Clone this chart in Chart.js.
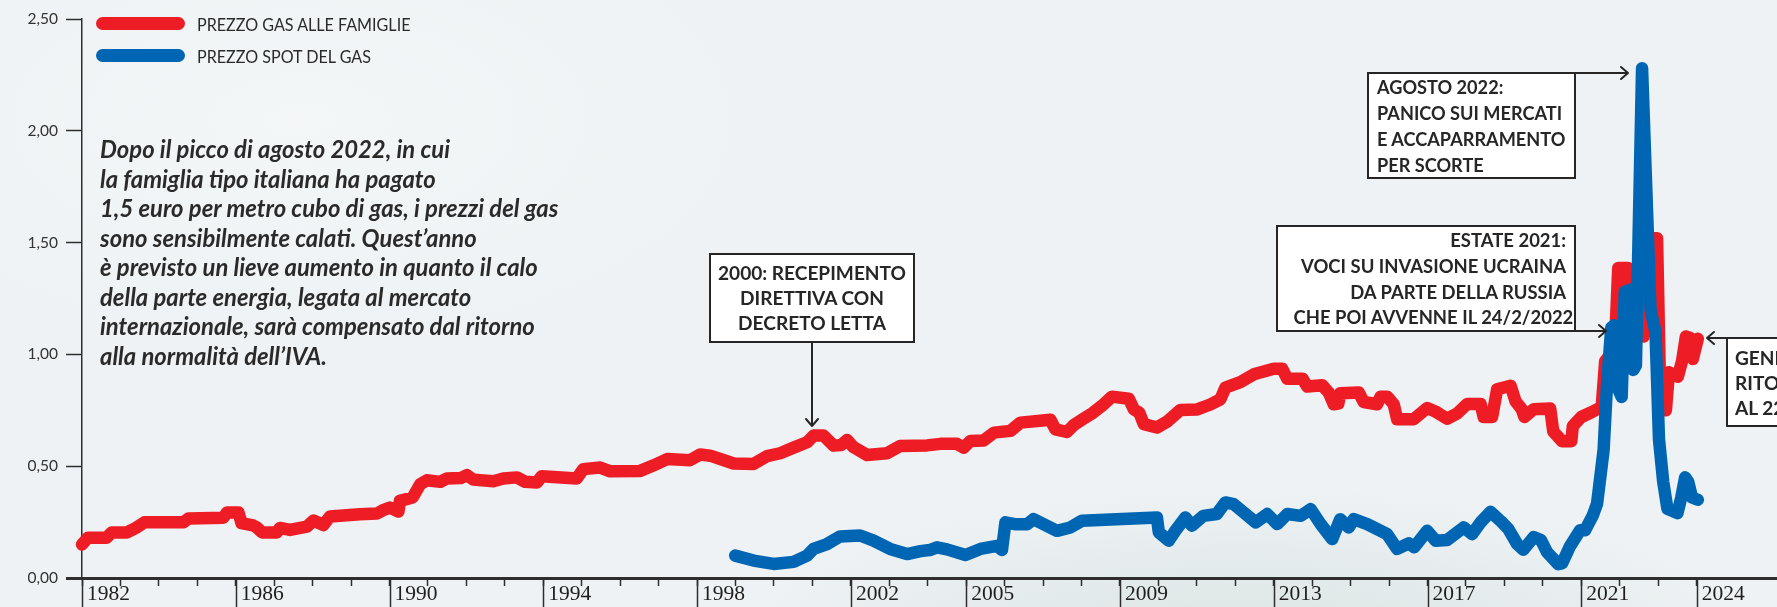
<!DOCTYPE html>
<html><head><meta charset="utf-8">
<script src="https://cdn.jsdelivr.net/npm/chart.js@4.4.1/dist/chart.umd.min.js"></script>
<style>
html,body{margin:0;padding:0;width:1777px;height:607px;overflow:hidden;background:#eff2f4;}
#wrap{position:relative;width:1777px;height:607px;overflow:hidden;
 background: radial-gradient(ellipse 700px 220px at 1250px 650px, rgba(205,218,216,0.6), rgba(239,242,244,0) 75%), radial-gradient(ellipse 600px 300px at 300px 120px, rgba(246,248,249,0.7), rgba(239,242,244,0) 80%), #eef2f4;}
canvas{position:absolute;left:0;top:0;}
.lbar{position:absolute;height:13px;border-radius:7px;}
.ltxt{position:absolute;font-family:Lato;font-size:18px;color:#2a2a2a;white-space:nowrap;line-height:20px;transform-origin:0 50%;}
#para{position:absolute;left:100px;top:134px;font-family:Lato;font-style:italic;font-weight:700;color:#2a2a2a;line-height:29.5px;white-space:nowrap;}
.box{position:absolute;background:#fff;border:2px solid #262626;box-sizing:border-box;font-family:Lato;font-weight:700;font-size:19.5px;color:#262626;white-space:nowrap;}
.box .in{display:block;}
svg{position:absolute;left:0;top:0;}
</style></head>
<body>
<div id="wrap">
<canvas id="c" width="1777" height="607"></canvas>
<svg width="1777" height="607">
 <g stroke="#262626" stroke-width="2" fill="none" stroke-linecap="round" stroke-linejoin="round">
  <path d="M812 343 V426 M806 419 L812 426 L818 419"/>
  <path d="M1575 73 H1628 M1621 67 L1628 73 L1621 79"/>
  <path d="M1575 331 H1606 M1599 325 L1606 331 L1599 337"/>
  <path d="M1726 338 H1707 M1714 332 L1707 338 L1714 344"/>
 </g>
</svg>
<div id="legend"></div>
<div id="para">Dopo il picco di agosto 2022, in cui<br>la famiglia tipo italiana ha pagato<br>1,5 euro per metro cubo di gas, i prezzi del gas<br>sono sensibilmente calati. Quest’anno<br>è previsto un lieve aumento in quanto il calo<br>della parte energia, legata al mercato<br>internazionale, sarà compensato dal ritorno<br>alla normalità dell’IVA.</div>
<div class="box" style="left:709px;top:253px;width:206px;height:90px;text-align:center;line-height:25px;padding-top:5px;"><div class="in" id="b1" style="transform-origin:50% 0;">2000: RECEPIMENTO<br>DIRETTIVA CON<br>DECRETO LETTA</div></div>
<div class="box" style="left:1367px;top:72px;width:209px;height:107px;line-height:26px;padding-left:8px;padding-top:0px;"><div class="in" id="b2" style="transform-origin:0 0;">AGOSTO 2022:<br>PANICO SUI MERCATI<br>E ACCAPARRAMENTO<br>PER SCORTE</div></div>
<div class="box" style="left:1276px;top:225px;width:300px;height:107px;text-align:right;line-height:25.8px;padding-right:8px;padding-top:0px;"><div class="in" id="b3" style="transform-origin:100% 0;">ESTATE 2021:<br>VOCI SU INVASIONE UCRAINA<br>DA PARTE DELLA RUSSIA<br>CHE POI AVVENNE IL 24/2/2022</div></div>
<div class="box" style="left:1726px;top:337px;width:200px;height:90px;line-height:25px;padding-left:7px;padding-top:6px;"><div class="in" id="b4" style="transform-origin:0 0;">GENNAIO 2024:<br>RITORNO IVA<br>AL 22%</div></div>
</div>
<script>
// ---- DATA ----
const xTickYears = [];
for (let y = 1982; y <= 2024; y++) xTickYears.push(y);
const xLabelYears = [1982, 1986, 1990, 1994, 1998, 2002, 2005, 2009, 2013, 2017, 2021, 2024];
const yTickValues = [0, 0.5, 1, 1.5, 2, 2.5];

const seriesNames = ['PREZZO GAS ALLE FAMIGLIE', 'PREZZO SPOT DEL GAS'];

const redYears = [1982.00,1982.15,1982.64,1982.77,1983.17,1983.30,1983.42,1983.62,1984.64,1984.77,1985.68,1985.77,1986.07,1986.15,1986.45,1986.55,1986.68,1987.07,1987.15,1987.41,1987.85,1988.02,1988.28,1988.45,1989.23,1989.67,1989.85,1990.01,1990.23,1990.27,1990.60,1990.80,1990.97,1991.32,1991.49,1991.85,1992.01,1992.18,1992.70,1992.96,1993.31,1993.53,1993.83,1993.96,1994.87,1995.04,1995.48,1995.74,1996.52,1996.87,1997.22,1997.82,1998.08,1998.34,1998.95,1999.47,1999.82,2000.16,2000.51,2000.86,2001.03,2001.29,2001.55,2001.75,2001.90,2002.07,2002.42,2002.94,2003.28,2003.98,2004.33,2004.76,2004.93,2005.11,2005.45,2005.72,2006.15,2006.41,2007.19,2007.32,2007.62,2007.79,2008.06,2008.27,2008.53,2008.79,2009.23,2009.36,2009.50,2009.62,2009.96,2010.23,2010.57,2011.01,2011.35,2011.61,2011.74,2012.13,2012.48,2013.00,2013.22,2013.35,2013.75,2013.87,2014.26,2014.43,2014.56,2014.68,2014.73,2015.21,2015.34,2015.69,2015.78,2015.95,2016.12,2016.21,2016.64,2016.99,2017.20,2017.51,2017.77,2018.03,2018.38,2018.46,2018.68,2018.81,2019.16,2019.29,2019.45,2019.52,2019.76,2020.19,2020.27,2020.50,2020.74,2020.78,2021.00,2021.25,2021.53,2021.62,2021.87,2021.96,2022.22,2022.40,2022.62,2022.85,2022.97,2023.06,2023.20,2023.28,2023.51,2023.62,2023.72,2023.82,2023.90,2024.03];
const redValues = [0.150,0.180,0.180,0.204,0.204,0.215,0.226,0.249,0.249,0.266,0.270,0.293,0.293,0.245,0.235,0.226,0.204,0.204,0.224,0.215,0.230,0.257,0.237,0.275,0.285,0.288,0.305,0.315,0.297,0.345,0.360,0.420,0.437,0.430,0.445,0.447,0.460,0.440,0.433,0.445,0.450,0.430,0.427,0.455,0.445,0.487,0.494,0.477,0.479,0.504,0.532,0.527,0.552,0.547,0.512,0.510,0.545,0.558,0.583,0.607,0.637,0.637,0.592,0.595,0.617,0.585,0.550,0.558,0.590,0.593,0.600,0.600,0.583,0.613,0.615,0.650,0.658,0.695,0.708,0.665,0.653,0.683,0.713,0.736,0.770,0.811,0.802,0.754,0.740,0.688,0.673,0.700,0.751,0.754,0.776,0.799,0.851,0.876,0.911,0.936,0.936,0.891,0.891,0.856,0.862,0.829,0.777,0.780,0.826,0.830,0.787,0.777,0.811,0.811,0.777,0.710,0.710,0.760,0.745,0.712,0.736,0.778,0.778,0.720,0.720,0.844,0.860,0.790,0.755,0.720,0.755,0.758,0.655,0.612,0.612,0.680,0.720,0.740,0.765,0.970,1.020,1.386,1.386,1.100,1.080,1.520,1.520,0.750,0.750,0.920,0.900,0.970,1.080,1.075,0.980,1.070];

const blueYears = [1998.99,1999.47,1999.99,2000.51,2000.86,2001.03,2001.38,2001.72,2002.24,2002.59,2003.02,2003.46,2003.81,2004.05,2004.24,2004.50,2004.98,2005.37,2005.80,2005.93,2006.02,2006.30,2006.58,2006.75,2007.36,2007.71,2008.01,2009.96,2010.01,2010.27,2010.44,2010.70,2010.87,2011.17,2011.52,2011.74,2011.96,2012.22,2012.53,2012.83,2013.09,2013.35,2013.70,2013.96,2014.22,2014.52,2014.73,2014.95,2015.08,2015.43,2015.95,2016.21,2016.51,2016.65,2016.99,2017.21,2017.51,2017.94,2018.16,2018.38,2018.64,2018.90,2019.10,2019.33,2019.49,2019.76,2019.95,2020.11,2020.40,2020.50,2020.70,2020.97,2021.10,2021.30,2021.41,2021.58,2021.67,2021.78,2021.86,2021.92,2022.05,2022.13,2022.28,2022.35,2022.42,2022.58,2022.80,2022.93,2023.02,2023.13,2023.24,2023.50,2023.60,2023.70,2023.78,2023.88,2024.03];
const blueValues = [0.100,0.078,0.063,0.072,0.100,0.130,0.152,0.186,0.190,0.167,0.130,0.107,0.120,0.125,0.137,0.128,0.103,0.130,0.144,0.125,0.249,0.240,0.240,0.263,0.211,0.226,0.256,0.271,0.204,0.167,0.211,0.271,0.234,0.278,0.286,0.338,0.330,0.293,0.249,0.286,0.241,0.286,0.278,0.308,0.241,0.174,0.263,0.226,0.263,0.241,0.196,0.130,0.155,0.137,0.211,0.167,0.170,0.226,0.196,0.249,0.296,0.255,0.220,0.152,0.126,0.183,0.170,0.115,0.062,0.065,0.140,0.214,0.214,0.280,0.333,0.573,0.870,1.120,1.130,0.860,0.810,1.280,1.290,0.930,0.950,2.280,1.200,1.100,0.620,0.430,0.310,0.290,0.360,0.450,0.430,0.360,0.350];

const RED = '#ee1d25';
const BLUE = '#0066b3';
const AXIS = '#2e2e2e';

const zip = (xs, ys) => xs.map((x, i) => ({x: x, y: ys[i]}));

const longTicks = {
  id: 'longTicks',
  afterDraw(chart) {
    const xs = chart.scales.x, c = chart.ctx;
    c.save();
    c.strokeStyle = AXIS; c.lineWidth = 1.5;
    xLabelYears.forEach(yr => {
      const px = Math.round(xs.getPixelForValue(yr)) + 0.5;
      c.beginPath(); c.moveTo(px, xs.top); c.lineTo(px, chart.height); c.stroke();
    });
    c.restore();
  }
};

const chart = new Chart(document.getElementById('c'), {
  type: 'line',
  data: {
    datasets: [
      {label: seriesNames[0], data: zip(redYears, redValues), borderColor: RED, backgroundColor: RED,
       borderWidth: 12.5, pointRadius: 0, tension: 0, borderJoinStyle: 'round', borderCapStyle: 'round', clip: false, order: 1},
      {label: seriesNames[1], data: zip(blueYears, blueValues), borderColor: BLUE, backgroundColor: BLUE,
       borderWidth: 12.5, pointRadius: 0, tension: 0, borderJoinStyle: 'round', borderCapStyle: 'round', clip: false, order: 0}
    ]
  },
  options: {
    responsive: false, animation: false, devicePixelRatio: 1,
    layout: {padding: {top: 19, left: 0, right: 0, bottom: 0}},
    plugins: {legend: {display: false}, tooltip: {enabled: false}},
    scales: {
      x: {
        type: 'linear', min: 1982, max: 2026.09,
        afterBuildTicks: s => { s.ticks = xTickYears.map(v => ({value: v})); },
        afterFit: s => { s.height = 29; },
        ticks: {autoSkip: false, maxRotation: 0, minRotation: 0, align: 'start', labelOffset: 5, padding: -5,
                font: {family: 'Liberation Sans Narrow', size: 21.5}, color: '#1e1e1e',
                callback: v => xLabelYears.includes(v) ? String(v) : ''},
        grid: {drawOnChartArea: false, drawTicks: true, tickLength: 8, tickColor: AXIS, tickWidth: 1.5},
        border: {display: true, color: AXIS, width: 3}
      },
      y: {
        min: 0, max: 2.5,
        afterBuildTicks: s => { s.ticks = yTickValues.map(v => ({value: v})); },
        afterFit: s => { s.width = 82; },
        ticks: {padding: 8, font: {family: 'Lato', size: 15.5}, color: '#333',
                callback: v => v.toFixed(2).replace('.', ',')},
        grid: {drawOnChartArea: false, drawTicks: true, tickLength: 16, tickColor: AXIS,
               tickWidth: ctx => (ctx.tick && ctx.tick.value === 0) ? 3 : 1.5},
        border: {display: true, color: AXIS, width: 1.5}
      }
    }
  },
  plugins: [longTicks]
});

// ---- HTML legend built from datasets ----
const legend = document.getElementById('legend');
const legendY = [23.5, 55.5];
chart.data.datasets.forEach((ds, i) => {
  const bar = document.createElement('div');
  bar.className = 'lbar';
  bar.style.left = '96px'; bar.style.width = '89px';
  bar.style.top = (legendY[i] - 6.5) + 'px';
  bar.style.background = ds.borderColor;
  legend.appendChild(bar);
  const t = document.createElement('div');
  t.className = 'ltxt';
  t.textContent = ds.label;
  t.style.left = '197px';
  t.style.top = (legendY[i] - 10) + 'px';
  legend.appendChild(t);
});

// ---- horizontal fitting of text to reference widths ----
const mctx = document.createElement('canvas').getContext('2d');
function widest(lines, font) {
  mctx.font = font;
  return Math.max(...lines.map(l => mctx.measureText(l).width));
}
function squeeze(el, lines, target, font) {
  const w = widest(lines, font);
  el.style.transform = 'scaleX(' + (target / w).toFixed(4) + ')';
}
document.querySelectorAll('.ltxt').forEach(e => squeeze(e, [seriesNames[0]], 214, 'normal 400 18px Lato'));
const para = document.getElementById('para');
para.style.fontSize = (100 * 459 / widest(para.innerText.split('\n'), 'italic 700 100px Lato')).toFixed(2) + 'px';
const bf = 'normal 700 19.5px Lato';
squeeze(document.getElementById('b1'), ['2000: RECEPIMENTO'], 188, bf);
squeeze(document.getElementById('b4'), ['2000: RECEPIMENTO'], 188, bf);
squeeze(document.getElementById('b2'), ['PANICO SUI MERCATI', 'E ACCAPARRAMENTO'], 189, bf);
squeeze(document.getElementById('b3'), ['CHE POI AVVENNE IL 24/2/2022'], 281, bf);
</script>
</body></html>
